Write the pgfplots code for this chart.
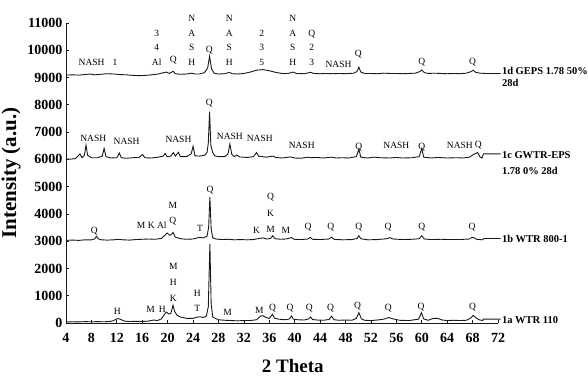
\documentclass[border=0pt]{standalone}
\usepackage{fontspec}
\setmainfont{Liberation Serif}
\usepackage{pgfplots}
\pgfplotsset{compat=1.18}
\newcommand{\ann}[3]{\node[font=\fontsize{9.5}{9.5}\selectfont, inner sep=0pt, anchor=center] at (axis cs:#1,#2) {#3};}
\newcommand{\stk}[4]{\node[font=\fontsize{9.5}{#4}\selectfont, inner sep=0pt, align=center, anchor=center] at (axis cs:#1,#2) {#3};}
\newcommand{\slbl}[3]{\node[font=\fontsize{10.5}{10.5}\selectfont\bfseries, inner sep=0pt, anchor=west] at (axis cs:#1,#2) {#3};}
\begin{document}
\begin{tikzpicture}
\useasboundingbox (-66pt,-55pt) rectangle (522pt,323pt);
\begin{axis}[
 at={(0,0)}, anchor=south west,
 scale only axis, width=432pt, height=300pt,
 xmin=4, xmax=72, ymin=0, ymax=11000,
 axis x line=bottom, axis y line=left,
 axis line style={-, line width=0.9pt, black!90},
 xtick={4,8,...,72}, ytick={0,1000,...,11000},
 scaled y ticks=false,
 tick align=inside, major tick length=3pt,
 tick style={black!90, line width=0.7pt},
 /pgf/number format/1000 sep={}, /pgf/number format/assume math mode=true,
 ticklabel style={font=\fontsize{14}{14}\selectfont\bfseries},
 xticklabel style={yshift=-7pt},
 xlabel={2 Theta}, ylabel={Intensity (a.u.)},
 xlabel style={at={(axis description cs:0.525,-0.143)}, anchor=center, font=\fontsize{19}{19}\selectfont\bfseries},
 ylabel style={at={(axis description cs:-0.127,0.5)}, anchor=center, font=\fontsize{21}{21}\selectfont\bfseries},
 clip=false,
]
% 1a WTR 110
\addplot[black!90, line width=0.9pt] coordinates {(4,40) (5,45) (6,40) (7,50) (8,45) (9,50) (10,45) (11,60) (11.5,90) (12,150) (12.3,160) (12.7,120) (13.2,70) (14,55) (15,60) (16,55) (17,70) (17.8,110) (18.4,90) (19,150) (19.5,320) (19.8,400) (20.2,330) (20.5,350) (20.85,650) (21.1,420) (21.5,280) (22,220) (23,170) (24,170) (24.6,210) (25.1,230) (25.6,200) (26.1,260) (26.4,600) (26.65,2900) (26.85,700) (27.1,220) (27.5,170) (28,120) (29,100) (30,90) (31,80) (32,90) (33,90) (34,120) (34.6,250) (35,270) (35.5,200) (36,170) (36.5,320) (36.8,180) (37.5,140) (38.5,120) (39.2,150) (39.5,260) (39.8,140) (40.5,120) (41.5,110) (42.2,150) (42.5,220) (42.8,130) (43.5,110) (44.5,100) (45.4,130) (45.8,250) (46.2,120) (47,100) (48,110) (49,100) (49.7,170) (50.1,380) (50.5,150) (51,100) (52,90) (53,110) (54,140) (54.8,200) (55.5,150) (56.5,100) (58,90) (59.5,140) (59.95,380) (60.3,150) (61,100) (61.8,170) (62.5,170) (63.2,110) (64,90) (65,100) (66,90) (67,100) (67.7,180) (68.1,280) (68.5,200) (69,120) (69.6,90) (69.7,140) (72.4,140)};
% 1b WTR 800-1
\addplot[black!90, line width=0.9pt] coordinates {(4,3030) (5,3040) (6,3030) (7,3050) (8,3050) (8.5,3080) (8.8,3180) (9.1,3080) (9.6,3050) (10.5,3040) (11.5,3050) (12.2,3070) (13,3050) (14,3040) (15,3060) (16,3070) (17,3080) (18,3070) (19,3100) (19.5,3200) (19.9,3300) (20.3,3220) (20.55,3240) (20.85,3320) (21.2,3150) (22,3090) (23,3070) (24,3080) (25,3140) (25.6,3120) (26.2,3180) (26.45,3500) (26.65,4620) (26.85,3450) (27.1,3120) (27.6,3080) (28.5,3060) (29.5,3070) (30.5,3050) (31.5,3060) (32.5,3050) (33.5,3060) (34.4,3100) (35,3120) (35.6,3080) (36.2,3100) (36.55,3200) (36.9,3090) (37.8,3070) (38.6,3080) (39.5,3130) (39.9,3070) (41,3060) (42.1,3080) (42.45,3140) (42.8,3070) (44,3060) (45.4,3080) (45.8,3150) (46.2,3070) (47.5,3050) (49,3060) (49.8,3100) (50.1,3200) (50.4,3090) (51.5,3050) (53,3060) (54.5,3090) (54.9,3130) (55.5,3080) (57,3060) (58.5,3070) (59.6,3090) (60,3200) (60.4,3080) (61.5,3060) (63,3070) (64.5,3060) (66,3060) (67.5,3080) (67.9,3140) (68.2,3130) (68.6,3070) (69.5,3050) (69.8,3100) (72.4,3100)};
% 1c GWTR-EPS
\addplot[black!90, line width=0.9pt] coordinates {(4,6010) (4.8,6010) (5.5,6030) (6.2,6200) (6.5,6060) (6.9,6150) (7.15,6520) (7.4,6150) (8,6060) (9,6060) (9.7,6120) (10.0,6400) (10.3,6100) (11,6050) (12,6060) (12.4,6230) (12.7,6060) (13.5,6040) (14.5,6060) (15.5,6070) (16.05,6180) (16.4,6060) (17.5,6050) (18.5,6080) (19.3,6120) (19.6,6220) (19.9,6100) (20.5,6120) (20.9,6250) (21.2,6120) (21.7,6260) (22,6100) (23,6100) (23.7,6200) (24,6480) (24.3,6130) (25,6120) (25.8,6150) (26.2,6250) (26.4,6600) (26.6,7750) (26.8,6500) (27.1,6250) (27.4,6130) (28,6100) (29,6100) (29.5,6200) (29.8,6560) (30.1,6180) (30.5,6100) (30.9,6160) (31.3,6090) (32.5,6070) (33.5,6100) (34,6250) (34.3,6120) (35.5,6080) (36.6,6120) (37,6070) (38,6050) (39.3,6090) (40,6050) (41,6040) (42,6080) (42.5,6060) (43.5,6070) (44.5,6050) (45.8,6080) (46.5,6050) (47.5,6060) (48.5,6050) (49.7,6100) (50.1,6380) (50.4,6080) (51.5,6050) (52.5,6080) (53.5,6060) (55,6050) (56,6070) (57,6050) (58.5,6060) (59.6,6100) (60,6400) (60.3,6080) (61.5,6050) (62.5,6070) (64,6050) (65.5,6060) (66.5,6050) (67.5,6080) (68.3,6200) (68.8,6250) (69.2,6080) (69.5,6050) (69.7,6200) (72.4,6200)};
% 1d GEPS
\addplot[black!90, line width=0.9pt] coordinates {(4,9090) (5,9100) (6,9090) (7,9110) (7.8,9130) (8.5,9100) (9.5,9120) (10.5,9140) (11.5,9130) (12.5,9110) (13.5,9100) (14.5,9080) (15.5,9070) (16.5,9080) (17.5,9100) (18.5,9130) (19.2,9170) (19.8,9200) (20.3,9150) (20.85,9230) (21.2,9140) (22,9120) (23,9130) (23.8,9160) (24.3,9130) (25,9130) (25.8,9180) (26.3,9350) (26.6,9780) (26.9,9330) (27.3,9160) (28,9130) (29,9140) (29.7,9190) (30.2,9140) (31,9130) (32,9150) (33,9200) (34,9270) (35,9290) (36,9250) (37,9190) (38,9150) (39,9150) (39.7,9200) (40.3,9150) (41.5,9140) (42.5,9190) (43,9150) (44,9140) (45,9150) (46,9140) (47,9150) (48,9140) (49.3,9160) (49.8,9220) (50.1,9380) (50.4,9200) (51,9150) (52,9150) (53,9140) (54,9160) (55,9150) (56,9150) (57,9140) (58,9150) (59,9160) (59.7,9220) (60,9280) (60.4,9180) (61,9150) (62,9160) (63,9150) (64,9140) (65,9150) (66,9140) (67,9160) (67.8,9220) (68.1,9270) (68.5,9190) (69.2,9160) (70,9150) (72.4,9150)};
% series labels
\slbl{72.6}{100}{1a WTR 110}
\slbl{72.6}{3100}{1b WTR 800-1}
\slbl{72.6}{6160}{1c GWTR-EPS}
\slbl{72.6}{5560}{1.78 0\% 28d}
\slbl{72.6}{9260}{1d GEPS 1.78 50\%}
\slbl{72.6}{8790}{28d}
% 1a annotations
\ann{12.07}{415}{H}
\ann{17.33}{513}{M}
\ann{19.16}{513}{H}
\stk{20.9}{1503}{M\\H\\K}{16}
\stk{24.67}{814}{H\\T}{15}
\ann{29.45}{392}{M}
\ann{34.43}{477}{M}
\ann{36.53}{539}{Q}
\ann{39.26}{539}{Q}
\ann{42.29}{539}{Q}
\ann{45.66}{539}{Q}
\ann{49.91}{623}{Q}
\ann{54.73}{539}{Q}
\ann{59.88}{580}{Q}
\ann{68.0}{580}{Q}
% 1b annotations
\ann{8.46}{3373}{Q}
\ann{17.5}{3600}{M K Al}
\stk{20.8}{4004}{M\\Q}{15.5}
\ann{25.1}{3472}{T}
\ann{26.67}{4877}{Q}
\ann{34.0}{3410}{K}
\stk{36.2}{4022}{Q\\K\\M}{16.5}
\ann{38.6}{3380}{M}
\ann{42.1}{3520}{Q}
\ann{45.7}{3520}{Q}
\ann{50.1}{3520}{Q}
\ann{54.7}{3520}{Q}
\ann{60.0}{3520}{Q}
\ann{67.9}{3520}{Q}
% 1c annotations
\ann{8.3}{6770}{NASH}
\ann{13.55}{6650}{NASH}
\ann{21.7}{6735}{NASH}
\ann{26.56}{8056}{Q}
\ann{29.8}{6857}{NASH}
\ann{34.5}{6770}{NASH}
\ann{41.1}{6530}{NASH}
\ann{50.1}{6465}{Q}
\ann{56.0}{6530}{NASH}
\ann{60.0}{6465}{Q}
\ann{66.0}{6530}{NASH}
\ann{68.9}{6530}{Q}
% 1d annotations
\ann{8.04}{9560}{NASH}
\ann{11.7}{9560}{1}
\stk{18.27}{10103}{3\\4\\Al}{14.5}
\ann{20.9}{9630}{Q}
\stk{23.8}{10368}{N\\A\\S\\H}{14.5}
\ann{26.57}{10020}{Q}
\stk{29.7}{10368}{N\\A\\S\\H}{14.5}
\stk{34.8}{10103}{2\\3\\5}{14.5}
\stk{39.7}{10368}{N\\A\\S\\H}{14.5}
\stk{42.7}{10103}{Q\\2\\3}{14.5}
\ann{46.9}{9500}{NASH}
\ann{50.0}{9870}{Q}
\ann{60.0}{9560}{Q}
\ann{68.0}{9560}{Q}
\end{axis}
\end{tikzpicture}
\end{document}
